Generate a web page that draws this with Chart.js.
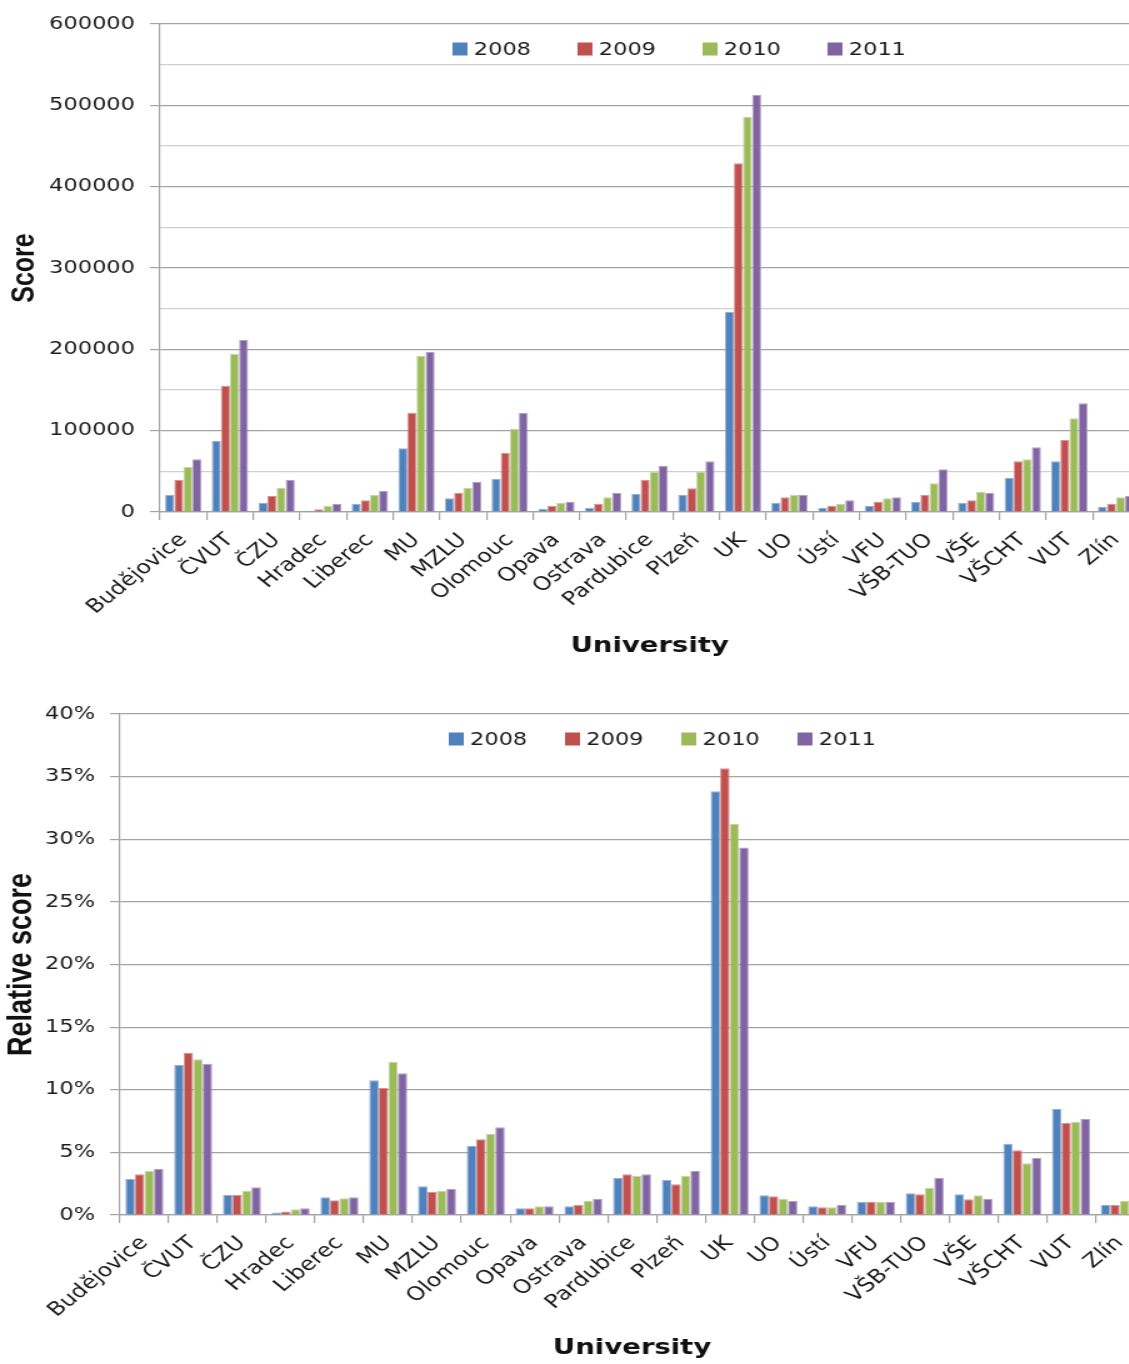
<!DOCTYPE html>
<html>
<head>
<meta charset="utf-8">
<script src="https://cdn.jsdelivr.net/npm/chart.js@4"></script>
<style>
  html, body { margin: 0; padding: 0; background: #fff; }
  body { width: 1129px; height: 1364px; overflow: hidden; position: relative; }
  .wrap { position: absolute; left: 0; transform: scaleX(1.25); transform-origin: 0 0; }
</style>
</head>
<body>
<div class="wrap" style="top:0"><canvas id="scoreChart" width="918" height="680"></canvas></div>
<div class="wrap" style="top:680px"><canvas id="relativeChart" width="921" height="684"></canvas></div>
<script>
const universities = ["Budějovice", "ČVUT", "ČZU", "Hradec", "Liberec", "MU", "MZLU", "Olomouc", "Opava", "Ostrava",
  "Pardubice", "Plzeň", "UK", "UO", "Ústí", "VFU", "VŠB-TUO", "VŠE", "VŠCHT", "VUT", "Zlín"];
const years = ["2008", "2009", "2010", "2011"];

// absolute score
const score2008 = [20900, 87300, 11500, 1200, 10200, 78300, 16800, 40600, 3700, 4900, 22100, 20900, 246300, 11500, 4900, 7400, 12700, 11500, 42200, 62300, 6100];
const score2009 = [39300, 155300, 19700, 3300, 14300, 122100, 23400, 72900, 7400, 10200, 39700, 29100, 428700, 18000, 7400, 12700, 20900, 14300, 62300, 88500, 10200];
const score2010 = [55700, 194300, 29900, 7400, 20900, 191800, 29900, 102000, 11500, 18000, 49200, 49200, 486100, 20900, 10200, 16800, 35300, 24600, 64800, 115200, 18000];
const score2011 = [64800, 211500, 39300, 10200, 26200, 196700, 36900, 122100, 12700, 23400, 57000, 62300, 512700, 20900, 14300, 18000, 52500, 23400, 79500, 133600, 20000];

// relative score, percent
const rel2008 = [2.87, 11.98, 1.6, 0.19, 1.41, 10.75, 2.29, 5.51, 0.53, 0.69, 2.98, 2.79, 33.83, 1.57, 0.69, 1.06, 1.73, 1.65, 5.69, 8.46, 0.8];
const rel2009 = [3.25, 12.93, 1.6, 0.27, 1.17, 10.14, 1.84, 6.04, 0.53, 0.8, 3.25, 2.45, 35.66, 1.49, 0.61, 1.06, 1.65, 1.25, 5.16, 7.35, 0.8];
const rel2010 = [3.51, 12.43, 1.92, 0.45, 1.33, 12.24, 1.92, 6.47, 0.69, 1.14, 3.14, 3.14, 31.22, 1.3, 0.61, 1.06, 2.18, 1.57, 4.13, 7.43, 1.14];
const rel2011 = [3.67, 12.08, 2.21, 0.53, 1.41, 11.31, 2.1, 7.0, 0.69, 1.3, 3.25, 3.51, 29.35, 1.14, 0.8, 1.06, 2.98, 1.3, 4.55, 7.66, 1.2];

const fills = ["#4f81bd", "#c0504d", "#9bbb59", "#8064a2"];
const edges = ["#8fb0d8", "#dc9290", "#c3d89e", "#b09ec6"];
const tickFont = { family: "'DejaVu Sans', Verdana, sans-serif", size: 18 };
const catFont = { family: "'DejaVu Sans', Verdana, sans-serif", size: 19 };
const gridMajor = "#a3a3a3";
const gridMinor = "#cfcfcf";

function makeDatasets(series) {
  return series.map((values, i) => ({
    label: years[i],
    data: values,
    backgroundColor: fills[i],
    borderColor: edges[i],
    borderWidth: 1,
    categoryPercentage: 0.78,
    barPercentage: 1.0,
  }));
}

// legend drawn inside the plot, Excel style
const innerLegend = {
  id: "innerLegend",
  afterDatasetsDraw(chart, args, opts) {
    const ctx = chart.ctx;
    ctx.save();
    ctx.font = tickFont.size + "px " + tickFont.family;
    ctx.textBaseline = "middle";
    chart.data.datasets.forEach((ds, i) => {
      const x = opts.x + i * opts.step;
      ctx.fillStyle = ds.backgroundColor;
      ctx.fillRect(x, opts.y - 6.5, 12, 13);
      ctx.fillStyle = "#1a1a1a";
      ctx.fillText(ds.label, x + 17, opts.y + 1);
    });
    ctx.restore();
  },
};

function makeOptions(cfg) {
  return {
    responsive: false,
    animation: false,
    devicePixelRatio: 1,
    layout: { padding: cfg.padding },
    plugins: {
      legend: { display: false },
      tooltip: { enabled: false },
      innerLegend: cfg.legend,
    },
    scales: {
      x: {
        grid: { drawOnChartArea: false, offset: true, tickLength: 8, color: gridMajor, lineWidth: 1.2 },
        border: { color: gridMajor, width: 1.2 },
        ticks: { font: catFont, color: "#1a1a1a", minRotation: 45, maxRotation: 45, padding: 9, autoSkip: false },
        title: {
          display: true,
          text: "University",
          font: { family: "'DejaVu Sans', Verdana, sans-serif", size: 22, weight: "bold" },
          color: "#111",
          padding: { top: 0, bottom: cfg.xTitlePad },
        },
        afterFit(scale) { scale.height = cfg.xHeight; },
      },
      y: {
        min: 0,
        max: cfg.max,
        grid: {
          tickLength: 8,
          lineWidth: 1.2,
          color: (c) => (c.tick && cfg.isMajor(c.tick.value) ? gridMajor : gridMinor),
          tickColor: (c) => (c.tick && cfg.isMajor(c.tick.value) ? gridMajor : "rgba(0,0,0,0)"),
        },
        border: { color: gridMajor, width: 1.2 },
        ticks: {
          stepSize: cfg.step,
          font: tickFont,
          color: "#1a1a1a",
          padding: 12,
          callback: cfg.label,
        },
        title: {
          display: true,
          text: cfg.yTitle,
          font: { family: "'Liberation Sans', Arial, sans-serif", size: cfg.yTitleSize, weight: "bold" },
          color: "#111",
          padding: { top: cfg.yTitlePad, bottom: 0 },
        },
        afterFit(scale) { scale.width = cfg.yWidth; },
      },
    },
  };
}

new Chart(document.getElementById("scoreChart"), {
  type: "bar",
  data: { labels: universities, datasets: makeDatasets([score2008, score2009, score2010, score2011]) },
  options: makeOptions({
    padding: { top: 24, right: 3, left: 0, bottom: 0 },
    legend: { x: 362, y: 49, step: 100 },
    max: 600000,
    step: 50000,
    isMajor: (v) => v % 100000 === 0,
    label: (v) => (v % 100000 === 0 ? String(v) : ""),
    xHeight: 168,
    xTitlePad: 21,
    yWidth: 128,
    yTitle: "Score",
    yTitleSize: 25,
    yTitlePad: 5,
  }),
  plugins: [innerLegend],
});

new Chart(document.getElementById("relativeChart"), {
  type: "bar",
  data: { labels: universities, datasets: makeDatasets([rel2008, rel2009, rel2010, rel2011]) },
  options: makeOptions({
    padding: { top: 34, right: 4, left: 0, bottom: 0 },
    legend: { x: 359, y: 59, step: 93 },
    max: 40,
    step: 5,
    isMajor: () => true,
    label: (v) => v + "%",
    xHeight: 149,
    xTitlePad: 3,
    yWidth: 96,
    yTitle: "Relative score",
    yTitleSize: 27,
    yTitlePad: 1,
  }),
  plugins: [innerLegend],
});
</script>
</body>
</html>
